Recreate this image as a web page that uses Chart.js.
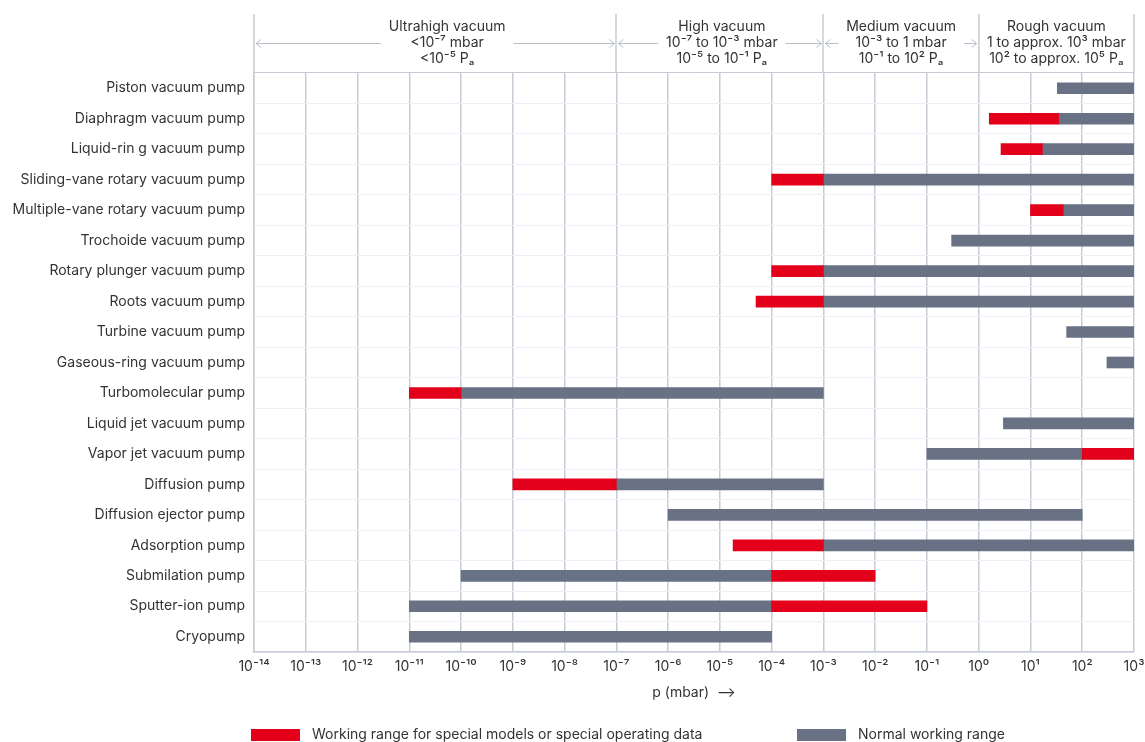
<!DOCTYPE html>
<html>
<head>
<meta charset="utf-8">
<title>Working ranges of vacuum pumps</title>
<script src="https://cdn.jsdelivr.net/npm/chart.js@4.4.1/dist/chart.umd.min.js"></script>
<style>
  html, body { margin: 0; padding: 0; background: #ffffff; }
  #wrap { width: 1145px; height: 742px; position: relative; overflow: hidden; }
</style>
</head>
<body>
<div id="wrap"><canvas id="chart" width="1145" height="742"></canvas></div>
<script>
// Pump types, top to bottom
const pumps = [
  'Piston vacuum pump',
  'Diaphragm vacuum pump',
  'Liquid-rin g vacuum pump',
  'Sliding-vane rotary vacuum pump',
  'Multiple-vane rotary vacuum pump',
  'Trochoide vacuum pump',
  'Rotary plunger vacuum pump',
  'Roots vacuum pump',
  'Turbine vacuum pump',
  'Gaseous-ring vacuum pump',
  'Turbomolecular pump',
  'Liquid jet vacuum pump',
  'Vapor jet vacuum pump',
  'Diffusion pump',
  'Diffusion ejector pump',
  'Adsorption pump',
  'Submilation pump',
  'Sputter-ion pump',
  'Cryopump'
];

// Normal working range (mbar)
const normalFrom = [33, 35, 17, 1e-3, 43, 0.3, 1e-3, 1e-3, 50, 300, 1e-10, 3, 0.1, 1e-7, 1e-6, 1e-3, 1e-10, 1e-11, 1e-11];
const normalTo   = [1e3, 1e3, 1e3, 1e3, 1e3, 1e3, 1e3, 1e3, 1e3, 1e3, 1e-3, 1e3, 100, 1e-3, 100, 1e3, 1e-4, 1e-4, 1e-4];

// Working range for special models or special operating data (mbar); null = none
const specialFrom = [null, 1.6, 2.7, 1e-4, 10, null, 1e-4, 5e-5, null, null, 1e-11, null, 100, 1e-9, null, 1.8e-5, 1e-4, 1e-4, null];
const specialTo   = [null, 35, 17, 1e-3, 43, null, 1e-3, 1e-3, null, null, 1e-10, null, 1e3, 1e-7, null, 1e-3, 1e-2, 1e-1, null];

// Pressure axis decades and their labels
const decadeExponents = [-14, -13, -12, -11, -10, -9, -8, -7, -6, -5, -4, -3, -2, -1, 0, 1, 2, 3];
const tickLabels = ['10⁻¹⁴', '10⁻¹³', '10⁻¹²', '10⁻¹¹', '10⁻¹⁰', '10⁻⁹', '10⁻⁸', '10⁻⁷', '10⁻⁶', '10⁻⁵', '10⁻⁴', '10⁻³', '10⁻²', '10⁻¹', '10⁰', '10¹', '10²', '10³'];

// Vacuum zones (boundaries as decade exponents)
const zoneBounds = [-14, -7, -3, 0, 3];
const zoneNames = ['Ultrahigh vacuum', 'High vacuum', 'Medium vacuum', 'Rough vacuum'];
const zoneMbar = ['<10⁻⁷ mbar', '10⁻⁷ to 10⁻³ mbar', '10⁻³ to 1 mbar', '1 to approx. 10³ mbar'];
const zonePa = ['<10⁻⁵ Pₐ', '10⁻⁵ to 10⁻¹ Pₐ', '10⁻¹ to 10² Pₐ', '10² to approx. 10⁵ Pₐ'];

const seriesLabels = ['Working range for special models or special operating data', 'Normal working range'];

const RED = '#e2001a';
const GREY = '#687284';
const GRID = '#c6cbd6';
const TEXT = '#333333';
const FONT = 'Inter, "Noto Sans", sans-serif';

const specialData = specialFrom.map((v, i) => (v === null ? null : [v, specialTo[i]]));
const normalData = normalFrom.map((v, i) => [v, normalTo[i]]);

function arrowLine(ctx, xa, xb, y, headAtB) {
  ctx.beginPath();
  ctx.moveTo(xa, y);
  ctx.lineTo(xb, y);
  ctx.stroke();
  const tip = headAtB ? xb : xa;
  const dir = headAtB ? -1 : 1;
  ctx.beginPath();
  ctx.moveTo(tip + dir * 5, y - 4);
  ctx.lineTo(tip, y);
  ctx.lineTo(tip + dir * 5, y + 4);
  ctx.stroke();
}

// Zone header above the plot area
const zoneHeader = {
  id: 'zoneHeader',
  afterDraw(chart) {
    const { ctx, chartArea } = chart;
    const x = chart.scales.x;
    const top = 14;
    const shift = [12, 2, 0, 0];
    ctx.save();
    ctx.strokeStyle = GRID;
    ctx.lineWidth = 1.5;
    zoneBounds.forEach(e => {
      const px = Math.round(x.getPixelForValue(Math.pow(10, e)));
      ctx.beginPath();
      ctx.moveTo(px, top);
      ctx.lineTo(px, chartArea.top);
      ctx.stroke();
    });
    ctx.font = '14px ' + FONT;
    ctx.fillStyle = TEXT;
    ctx.textAlign = 'center';
    ctx.textBaseline = 'middle';
    const rows = [27, 43, 59];
    ctx.strokeStyle = '#b8bdc8';
    ctx.lineWidth = 1;
    for (let i = 0; i < zoneNames.length; i++) {
      const x0 = x.getPixelForValue(Math.pow(10, zoneBounds[i]));
      const x1 = x.getPixelForValue(Math.pow(10, zoneBounds[i + 1]));
      const cx = (x0 + x1) / 2 + shift[i];
      const lines = [zoneNames[i], zoneMbar[i], zonePa[i]];
      let w = 0;
      lines.forEach((t, k) => {
        ctx.fillText(t, cx, rows[k]);
        w = Math.max(w, ctx.measureText(t).width);
      });
      const leftEnd = cx - w / 2 - 8;
      const rightStart = cx + w / 2 + 8;
      if (leftEnd - (x0 + 2) > 10) arrowLine(ctx, x0 + 2, leftEnd, rows[1] + 0.5, false);
      if ((x1 - 2) - rightStart > 10) arrowLine(ctx, rightStart, x1 - 2, rows[1] + 0.5, true);
    }
    ctx.restore();
  }
};

// Legend along the bottom edge
const bottomLegend = {
  id: 'bottomLegend',
  afterDraw(chart) {
    const { ctx } = chart;
    const colors = [RED, GREY];
    const starts = [251, 797];
    const y = 735;
    ctx.save();
    ctx.font = '14px ' + FONT;
    ctx.textBaseline = 'middle';
    ctx.textAlign = 'left';
    seriesLabels.forEach((label, i) => {
      ctx.fillStyle = colors[i];
      ctx.fillRect(starts[i], y - 6, 49, 12);
      ctx.fillStyle = TEXT;
      ctx.fillText(label, starts[i] + 61, y);
    });
    ctx.restore();
  }
};

new Chart(document.getElementById('chart'), {
  type: 'bar',
  data: {
    labels: pumps,
    datasets: [
      {
        label: seriesLabels[0],
        data: specialData,
        backgroundColor: RED,
        grouped: false,
        barThickness: 11,
        borderWidth: 0
      },
      {
        label: seriesLabels[1],
        data: normalData,
        backgroundColor: GREY,
        grouped: false,
        barThickness: 11,
        borderWidth: 0
      }
    ]
  },
  options: {
    indexAxis: 'y',
    responsive: false,
    animation: false,
    layout: { padding: { top: 73, right: 11, bottom: 0, left: 0 } },
    plugins: {
      legend: { display: false },
      tooltip: { enabled: false }
    },
    scales: {
      x: {
        type: 'logarithmic',
        min: 1e-14,
        max: 1e3,
        afterBuildTicks(scale) {
          scale.ticks = decadeExponents.map(e => ({ value: Math.pow(10, e) }));
        },
        afterFit(scale) {
          scale.height = 90;
          scale.paddingLeft = 0;
          scale.paddingRight = 0;
        },
        ticks: {
          autoSkip: false,
          maxRotation: 0,
          padding: 6,
          color: TEXT,
          font: { family: FONT, size: 14 },
          callback: (value, index) => tickLabels[index]
        },
        grid: {
          color: GRID,
          lineWidth: 1.5,
          drawTicks: false
        },
        border: { color: GRID, width: 1.5 },
        title: {
          display: true,
          text: 'p (mbar)  ⟶',
          color: TEXT,
          font: { family: FONT, size: 14 },
          padding: { top: 0, bottom: 41 }
        }
      },
      y: {
        afterFit(scale) { scale.width = 254; },
        ticks: {
          padding: 9,
          color: TEXT,
          font: { family: FONT, size: 14 }
        },
        grid: {
          drawTicks: false,
          lineWidth: 1,
          color: ctx => (ctx.index === 0 ? GRID : '#eef0f4')
        },
        border: { color: GRID, width: 1.5 }
      }
    }
  },
  plugins: [zoneHeader, bottomLegend]
});
</script>
</body>
</html>
